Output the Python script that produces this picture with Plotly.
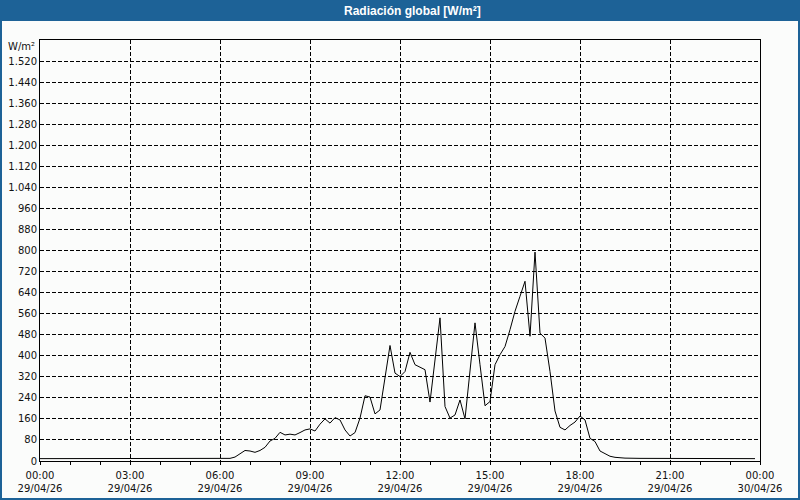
import plotly.graph_objects as go

# ---- data ----
day = "2026-04-29"
times = ["00:00", "03:00", "06:00", "06:20",
         "06:30", "06:40", "06:50", "07:00", "07:10", "07:20", "07:30", "07:40", "07:50",
         "08:00", "08:10", "08:20", "08:30", "08:40", "08:50",
         "09:00", "09:10", "09:20", "09:30", "09:40", "09:50",
         "10:00", "10:10", "10:20", "10:30", "10:40", "10:50",
         "11:00", "11:10", "11:20", "11:30", "11:40", "11:50",
         "12:00", "12:10", "12:20", "12:30", "12:40", "12:50",
         "13:00", "13:10", "13:20", "13:30", "13:40", "13:50",
         "14:00", "14:10", "14:20", "14:30", "14:40", "14:50",
         "15:00", "15:10", "15:20", "15:30", "15:40", "15:50",
         "16:00", "16:10", "16:20", "16:30", "16:40", "16:50",
         "17:00", "17:10", "17:20", "17:30", "17:40", "17:50",
         "18:00", "18:10", "18:20", "18:30", "18:40", "18:50",
         "19:00", "19:10", "19:20", "19:30", "20:00", "21:00", "23:50"]
radiation = [9, 9, 9, 10,
             15, 27, 40, 38, 33, 40, 52, 76, 86,
             109, 99, 102, 99, 108, 118,
             122, 114, 140, 160, 144, 165,
             156, 118, 95, 108, 163, 248,
             243, 179, 194, 321, 439, 334,
             321, 340, 413, 366, 356, 347,
             224, 391, 544, 207, 163, 175,
             232, 160, 330, 525, 366, 210,
             226, 366, 404, 435, 499, 569,
             626, 683, 474, 794, 486, 467,
             340, 190, 128, 118, 135, 148,
             171, 156, 86, 74, 38, 28,
             18, 14, 12, 11, 10, 9, 9]

y_ticks = list(range(0, 1601, 80))
y_tick_text = ["{:,}".format(v).replace(",", ".") for v in y_ticks[:-1]] + [""]
x_tick_vals = ["2026-04-29 00:00", "2026-04-29 03:00", "2026-04-29 06:00",
               "2026-04-29 09:00", "2026-04-29 12:00", "2026-04-29 15:00",
               "2026-04-29 18:00", "2026-04-29 21:00", "2026-04-30 00:00"]
x_tick_text = ["00:00<br>29/04/26", "03:00<br>29/04/26", "06:00<br>29/04/26",
               "09:00<br>29/04/26", "12:00<br>29/04/26", "15:00<br>29/04/26",
               "18:00<br>29/04/26", "21:00<br>29/04/26", "00:00<br>30/04/26"]
title = "Radiación global [W/m²]"
unit = "W/m²"

x = [f"{day} {t}" for t in times]

# ---- layout geometry ----
W, H = 800, 500
L, R, T, B = 40, 40, 40, 39
pw, ph = W - L - R, H - T - B
BLUE = "#1d6297"
BG = "#fbfcfb"
FONT = "DejaVu Sans"

def px_x(p):
    return (p - L) / pw

def px_y(p):
    return (H - B - p) / ph

fig = go.Figure()
fig.add_trace(go.Scatter(x=x, y=radiation, mode="lines",
                         line=dict(color="black", width=1), hoverinfo="skip"))

fig.update_layout(
    width=W, height=H,
    margin=dict(l=L, r=R, t=T, b=B, autoexpand=False),
    paper_bgcolor=BG, plot_bgcolor=BG,
    showlegend=False,
    font=dict(family=FONT, size=10, color="#111111"),
    xaxis=dict(
        type="date", automargin=False,
        range=["2026-04-29 00:00", "2026-04-30 00:00"],
        tickvals=x_tick_vals, ticktext=x_tick_text,
        showgrid=True, gridcolor="black", gridwidth=1, griddash="4px,2px",
        showline=True, linecolor="black", linewidth=1, mirror=True,
        ticks="outside", ticklen=3, tickcolor="black", ticklabelstandoff=2,
        minor=dict(dtick=3600000, ticks="outside", ticklen=3, tickcolor="black", showgrid=False),
        zeroline=False, fixedrange=True,
    ),
    yaxis=dict(
        automargin=False,
        range=[0, 1600],
        tickvals=y_ticks, ticktext=y_tick_text,
        showgrid=True, gridcolor="black", gridwidth=1, griddash="4px,2px",
        showline=True, linecolor="black", linewidth=1, mirror=True,
        ticks="", zeroline=False, fixedrange=True,
    ),
    shapes=[
        dict(type="rect", xref="paper", yref="paper",
             x0=px_x(0), x1=px_x(W), y0=px_y(21), y1=px_y(0),
             fillcolor=BLUE, line=dict(width=0), layer="below"),
        dict(type="rect", xref="paper", yref="paper",
             x0=px_x(1), x1=px_x(W - 1), y0=px_y(H - 1), y1=px_y(1),
             fillcolor="rgba(0,0,0,0)", line=dict(color=BLUE, width=2)),
    ],
    annotations=[
        dict(text="<b>" + title + "</b>", xref="paper", yref="paper",
             x=px_x(412), y=px_y(10.5), xanchor="center", yanchor="middle",
             showarrow=False, font=dict(family="Liberation Sans", size=12, color="white")),
        dict(text=unit, xref="paper", yref="paper",
             x=px_x(37), y=px_y(46), xanchor="right", yanchor="middle",
             showarrow=False, font=dict(family=FONT, size=10, color="#111111")),
    ],
)

fig.write_html("out.html", config={"displayModeBar": False},
               post_script="document.body.style.margin='0px';document.body.style.overflow='hidden';")
